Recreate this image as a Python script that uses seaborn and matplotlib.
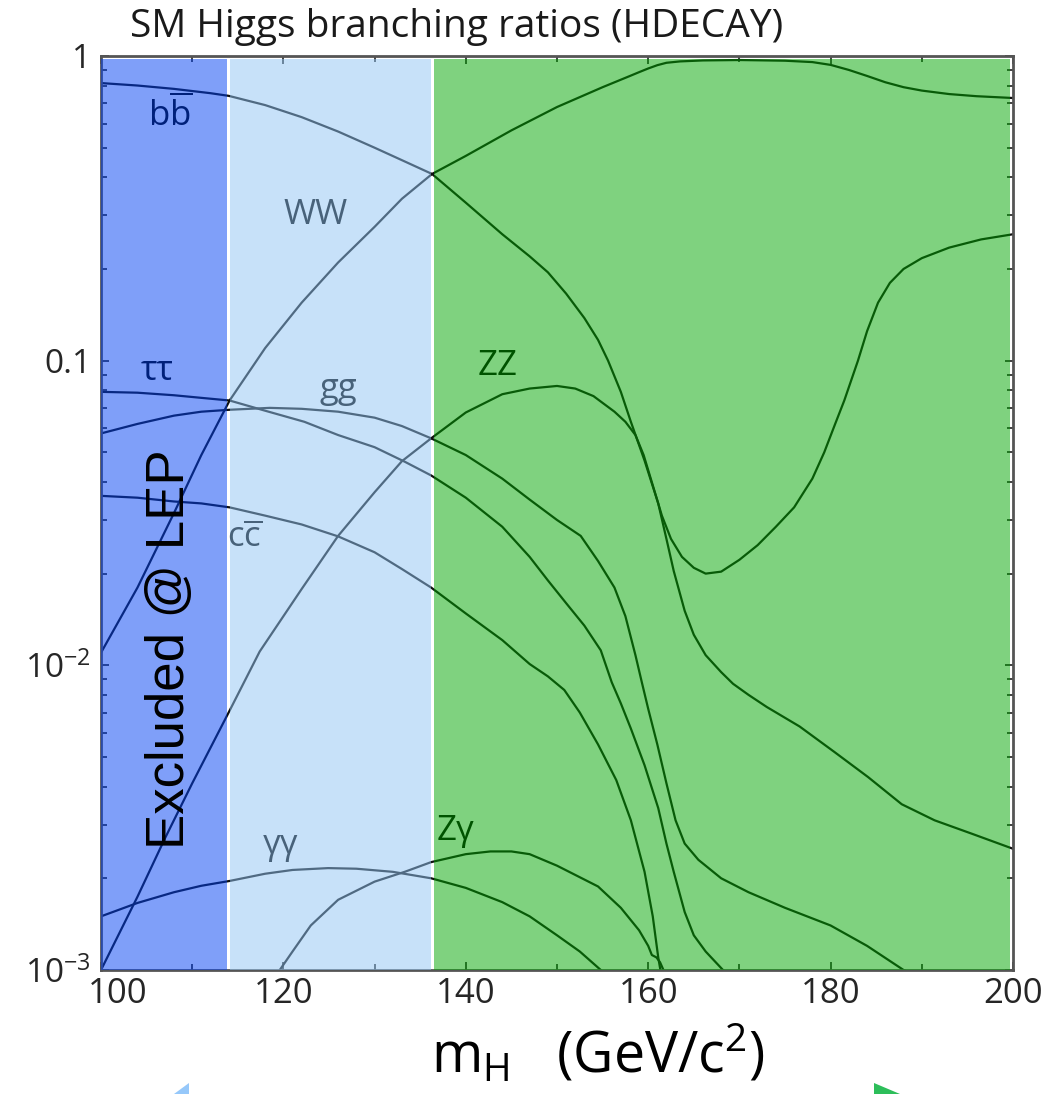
import numpy as np
import pandas as pd
import matplotlib
matplotlib.use("Agg")
import matplotlib.pyplot as plt
import seaborn as sns
from matplotlib.ticker import LogLocator, NullFormatter, FixedLocator
from matplotlib.transforms import ScaledTranslation
from matplotlib.patches import Polygon

# ---------------- data ----------------
m_bb = [100, 104, 108, 112, 114, 118, 122, 126, 130, 133, 136.3, 140, 144, 147, 149, 151,
        153, 154.5, 155.6, 157, 158.1, 159.6, 161.1, 162, 162.8, 164, 165, 166.3, 168,
        169.3, 171, 173, 176.6, 180.4, 184.1, 187.8, 191.4, 195.5, 200]
br_bb = [0.815, 0.80, 0.78, 0.755, 0.74, 0.69, 0.63, 0.565, 0.50, 0.455, 0.41, 0.33, 0.26,
         0.22, 0.195, 0.166, 0.138, 0.117, 0.10, 0.079, 0.063, 0.047, 0.034, 0.026, 0.0204,
         0.0151, 0.0126, 0.0108, 0.0095, 0.0087, 0.008, 0.0073, 0.0063, 0.0052, 0.0043,
         0.0035, 0.0031, 0.0028, 0.0025]

m_ww = [100, 104, 108, 111, 114.1, 118, 122, 126, 130, 133, 136.3, 140, 145, 150, 155, 158,
        159, 160, 161, 162, 163.5, 166, 170, 175, 178, 180, 182, 184, 186, 188, 190, 193,
        196, 200]
br_ww = [0.011, 0.018, 0.0316, 0.049, 0.074, 0.11, 0.155, 0.21, 0.275, 0.34, 0.41, 0.47,
         0.57, 0.68, 0.79, 0.86, 0.885, 0.91, 0.933, 0.95, 0.96, 0.967, 0.97, 0.965, 0.955,
         0.935, 0.90, 0.86, 0.82, 0.79, 0.77, 0.75, 0.738, 0.728]

m_zz = [100, 104, 107, 110, 114.1, 117.4, 122, 126, 130, 133, 136.2, 140, 144, 147, 150,
        152, 154, 156.3, 157.5, 158.6, 159.5, 160.5, 161.5, 162.5, 163.7, 165, 166.3, 168,
        170, 172, 174, 176, 178, 179.3, 180.5, 181.5, 183, 184, 185.2, 186.5, 188, 190,
        193, 196.5, 200]
br_zz = [0.001, 0.00174, 0.0027, 0.0041, 0.0071, 0.0111, 0.0178, 0.0266, 0.037, 0.0468,
         0.0556, 0.0676, 0.0776, 0.081, 0.0826, 0.081, 0.0765, 0.068, 0.063, 0.057, 0.049,
         0.039, 0.031, 0.026, 0.0227, 0.0209, 0.020, 0.0203, 0.0222, 0.0248, 0.0285,
         0.033, 0.041, 0.05, 0.062, 0.074, 0.10, 0.125, 0.155, 0.18, 0.200, 0.217, 0.235,
         0.25, 0.26]

m_tautau = [100, 104, 108, 111, 114.1, 118, 122.3, 126, 130, 133.3, 136.2, 140, 144, 147,
            149, 151, 153, 154.8, 156, 157, 158.1, 159.6, 161.1, 162, 162.8, 164, 165,
            166.3, 168.2, 170]
br_tautau = [0.079, 0.0785, 0.077, 0.0755, 0.074, 0.0685, 0.063, 0.057, 0.052, 0.0466,
             0.042, 0.0355, 0.0285, 0.0227, 0.019, 0.016, 0.0135, 0.0112, 0.0088, 0.0075,
             0.0062, 0.0047, 0.0034, 0.0026, 0.0021, 0.00155, 0.0013, 0.00115, 0.001,
             0.00092]

m_gg = [100, 104, 108, 111, 114.1, 118.5, 122, 126, 130, 133, 136.2, 140, 144, 147, 150,
        152.6, 154.5, 156.3, 157.5, 158.6, 159.3, 160, 161, 162, 163, 164, 165.5, 168,
        171, 175, 180, 184, 188, 192]
br_gg = [0.0577, 0.062, 0.066, 0.068, 0.069, 0.070, 0.0695, 0.068, 0.065, 0.061, 0.0556,
         0.049, 0.041, 0.035, 0.030, 0.0266, 0.022, 0.018, 0.0145, 0.0108, 0.0088, 0.0072,
         0.0055, 0.0041, 0.0031, 0.0026, 0.0023, 0.002, 0.0018, 0.0016, 0.0014, 0.0012,
         0.001, 0.0009]

m_cc = [100, 104, 108, 111, 114.1, 118, 122, 126, 130, 133, 136.2, 140, 144, 147, 149,
        150.8, 152.5, 154.5, 156.5, 158.1, 159.6, 160.5, 161.1, 161.6]
br_cc = [0.036, 0.0355, 0.0345, 0.034, 0.033, 0.031, 0.029, 0.0265, 0.0235, 0.0207, 0.018,
         0.0148, 0.0121, 0.0101, 0.0092, 0.0083, 0.007, 0.0055, 0.0042, 0.0031, 0.0021,
         0.0015, 0.0011, 0.0009]

m_gamgam = [100, 104, 108, 111, 114.1, 118, 121, 124.9, 128, 132, 136.2, 140, 144, 147,
            150, 152.5, 154.8, 156]
br_gamgam = [0.0015, 0.00166, 0.0018, 0.00189, 0.00196, 0.00207, 0.00213, 0.00216,
             0.00215, 0.0021, 0.0020, 0.00186, 0.00167, 0.0015, 0.0013, 0.00115, 0.001,
             0.0009]

m_zgam = [119.6, 121, 123, 126, 130, 133.3, 136.2, 140, 142.7, 145, 147, 150, 154.5, 157,
          159, 160, 160.4, 160.9, 161.3, 162]
br_zgam = [0.001, 0.00115, 0.0014, 0.0017, 0.00195, 0.0021, 0.00226, 0.0024, 0.00245,
           0.00245, 0.0024, 0.0022, 0.00188, 0.0016, 0.00135, 0.0012, 0.00112, 0.0011,
           0.00106, 0.00095]

channels = ["bb", "WW", "ZZ", "tautau", "gg", "cc", "gamgam", "Zgam"]
masses = [m_bb, m_ww, m_zz, m_tautau, m_gg, m_cc, m_gamgam, m_zgam]
ratios = [br_bb, br_ww, br_zz, br_tautau, br_gg, br_cc, br_gamgam, br_zgam]

# channel labels: (text, mass, BR)
label_text = [r"$\mathrm{b\overline{b}}$", "WW", "ZZ", "ττ", "gg", r"$\mathrm{c\overline{c}}$",
              "γγ", "Zγ"]
label_m = [107.6, 123.5, 143.5, 106.1, 126.0, 115.8, 119.7, 138.9]
label_br = [0.64, 0.30, 0.0957, 0.0925, 0.0807, 0.0262, 0.00257, 0.00286]

# regions: (start, end, overlay colour)
region_lo = [100.0, 114.15, 136.5]
region_hi = [113.85, 136.2, 199.7]
region_col = ["#0141f5", "#91c5f5", "#01a701"]

x_ticks = [100, 120, 140, 160, 180, 200]
x_minor = [110, 130, 150, 170, 190]
y_ticks = [1e-3, 1e-2, 0.1, 1]
y_ticklabels = [r"$10^{-3}$", r"$10^{-2}$", "0.1", "1"]

# ---------------- style ----------------
sns.set_style("ticks")
plt.rcParams["font.family"] = ["Open Sans", "DejaVu Sans"]
plt.rcParams["mathtext.fontset"] = "custom"
plt.rcParams["mathtext.rm"] = "Open Sans"
plt.rcParams["mathtext.it"] = "Open Sans:italic"
plt.rcParams["mathtext.bf"] = "Open Sans:bold"

df = pd.concat(
    [pd.DataFrame({"mass": m, "br": b, "channel": c}) for m, b, c in zip(masses, ratios, channels)],
    ignore_index=True,
)

W, H = 1060, 1094
fig = plt.figure(figsize=(W / 100, H / 100), dpi=100)
L, R, T, B = 101, 1013, 56, 970
ax = fig.add_axes([L / W, 1 - B / H, (R - L) / W, (B - T) / H])
ax.set_facecolor("white")

sns.lineplot(data=df, x="mass", y="br", hue="channel", palette={c: "#101010" for c in channels},
             estimator=None, sort=False, legend=False, linewidth=1.6, ax=ax, zorder=2)

ax.set_yscale("log")
ax.set_xlim(100, 200)
ax.set_ylim(1e-3, 1)

for t, m, b in zip(label_text, label_m, label_br):
    ax.text(m, b, t, ha="center", va="center", fontsize=25, color="black", zorder=2)

for lo, hi, col in zip(region_lo, region_hi, region_col):
    ax.axvspan(lo, hi, ymin=0, ymax=0.997, color=col, alpha=0.5, lw=0, zorder=3)

ax.text(109.1, 0.01132, "Excluded @ LEP", rotation=90, rotation_mode="anchor",
        ha="center", va="baseline", fontsize=38, family="Liberation Sans", color="black", zorder=5)

ax.set_xticks(x_ticks)
ax.xaxis.set_minor_locator(FixedLocator(x_minor))
ax.set_yticks(y_ticks)
ax.set_yticklabels(y_ticklabels)
ax.yaxis.set_minor_locator(LogLocator(base=10, subs=np.arange(2, 10)))
ax.yaxis.set_minor_formatter(NullFormatter())
ax.tick_params(which="both", direction="in", top=True, right=True, width=1.3, color="#333333")
ax.tick_params(which="major", length=6)
ax.tick_params(which="minor", length=4)
ax.tick_params(axis="x", labelsize=25, pad=5)
ax.tick_params(axis="y", labelsize=24, pad=7)
ax.set_xlabel("")
ax.set_ylabel("")
for s in ax.spines.values():
    s.set_linewidth(2)
    s.set_color("#555555")

lab0 = ax.get_xticklabels()[0]
lab0.set_transform(lab0.get_transform() + ScaledTranslation(0.17, 0, fig.dpi_scale_trans))

fig.text(457 / W, 1 - 37 / H, "SM Higgs branching ratios (HDECAY)", ha="center", va="baseline",
         fontsize=28, color="#1a1a1a")
fig.text(598 / W, 1 - 1073 / H, r"$\mathrm{m_H}$   (GeV/c$^2$)", ha="center", va="baseline",
         fontsize=40, color="black")

fig.patches.append(Polygon([[174 / W, 0], [189 / W, 11 / H], [189 / W, 0]], closed=True,
                           transform=fig.transFigure, facecolor="#96c8fa", edgecolor="none"))
fig.patches.append(Polygon([[874 / W, 0], [874 / W, 11 / H], [900 / W, 0]], closed=True,
                           transform=fig.transFigure, facecolor="#2dbe5a", edgecolor="none"))

fig.savefig("out.png", dpi=100)
